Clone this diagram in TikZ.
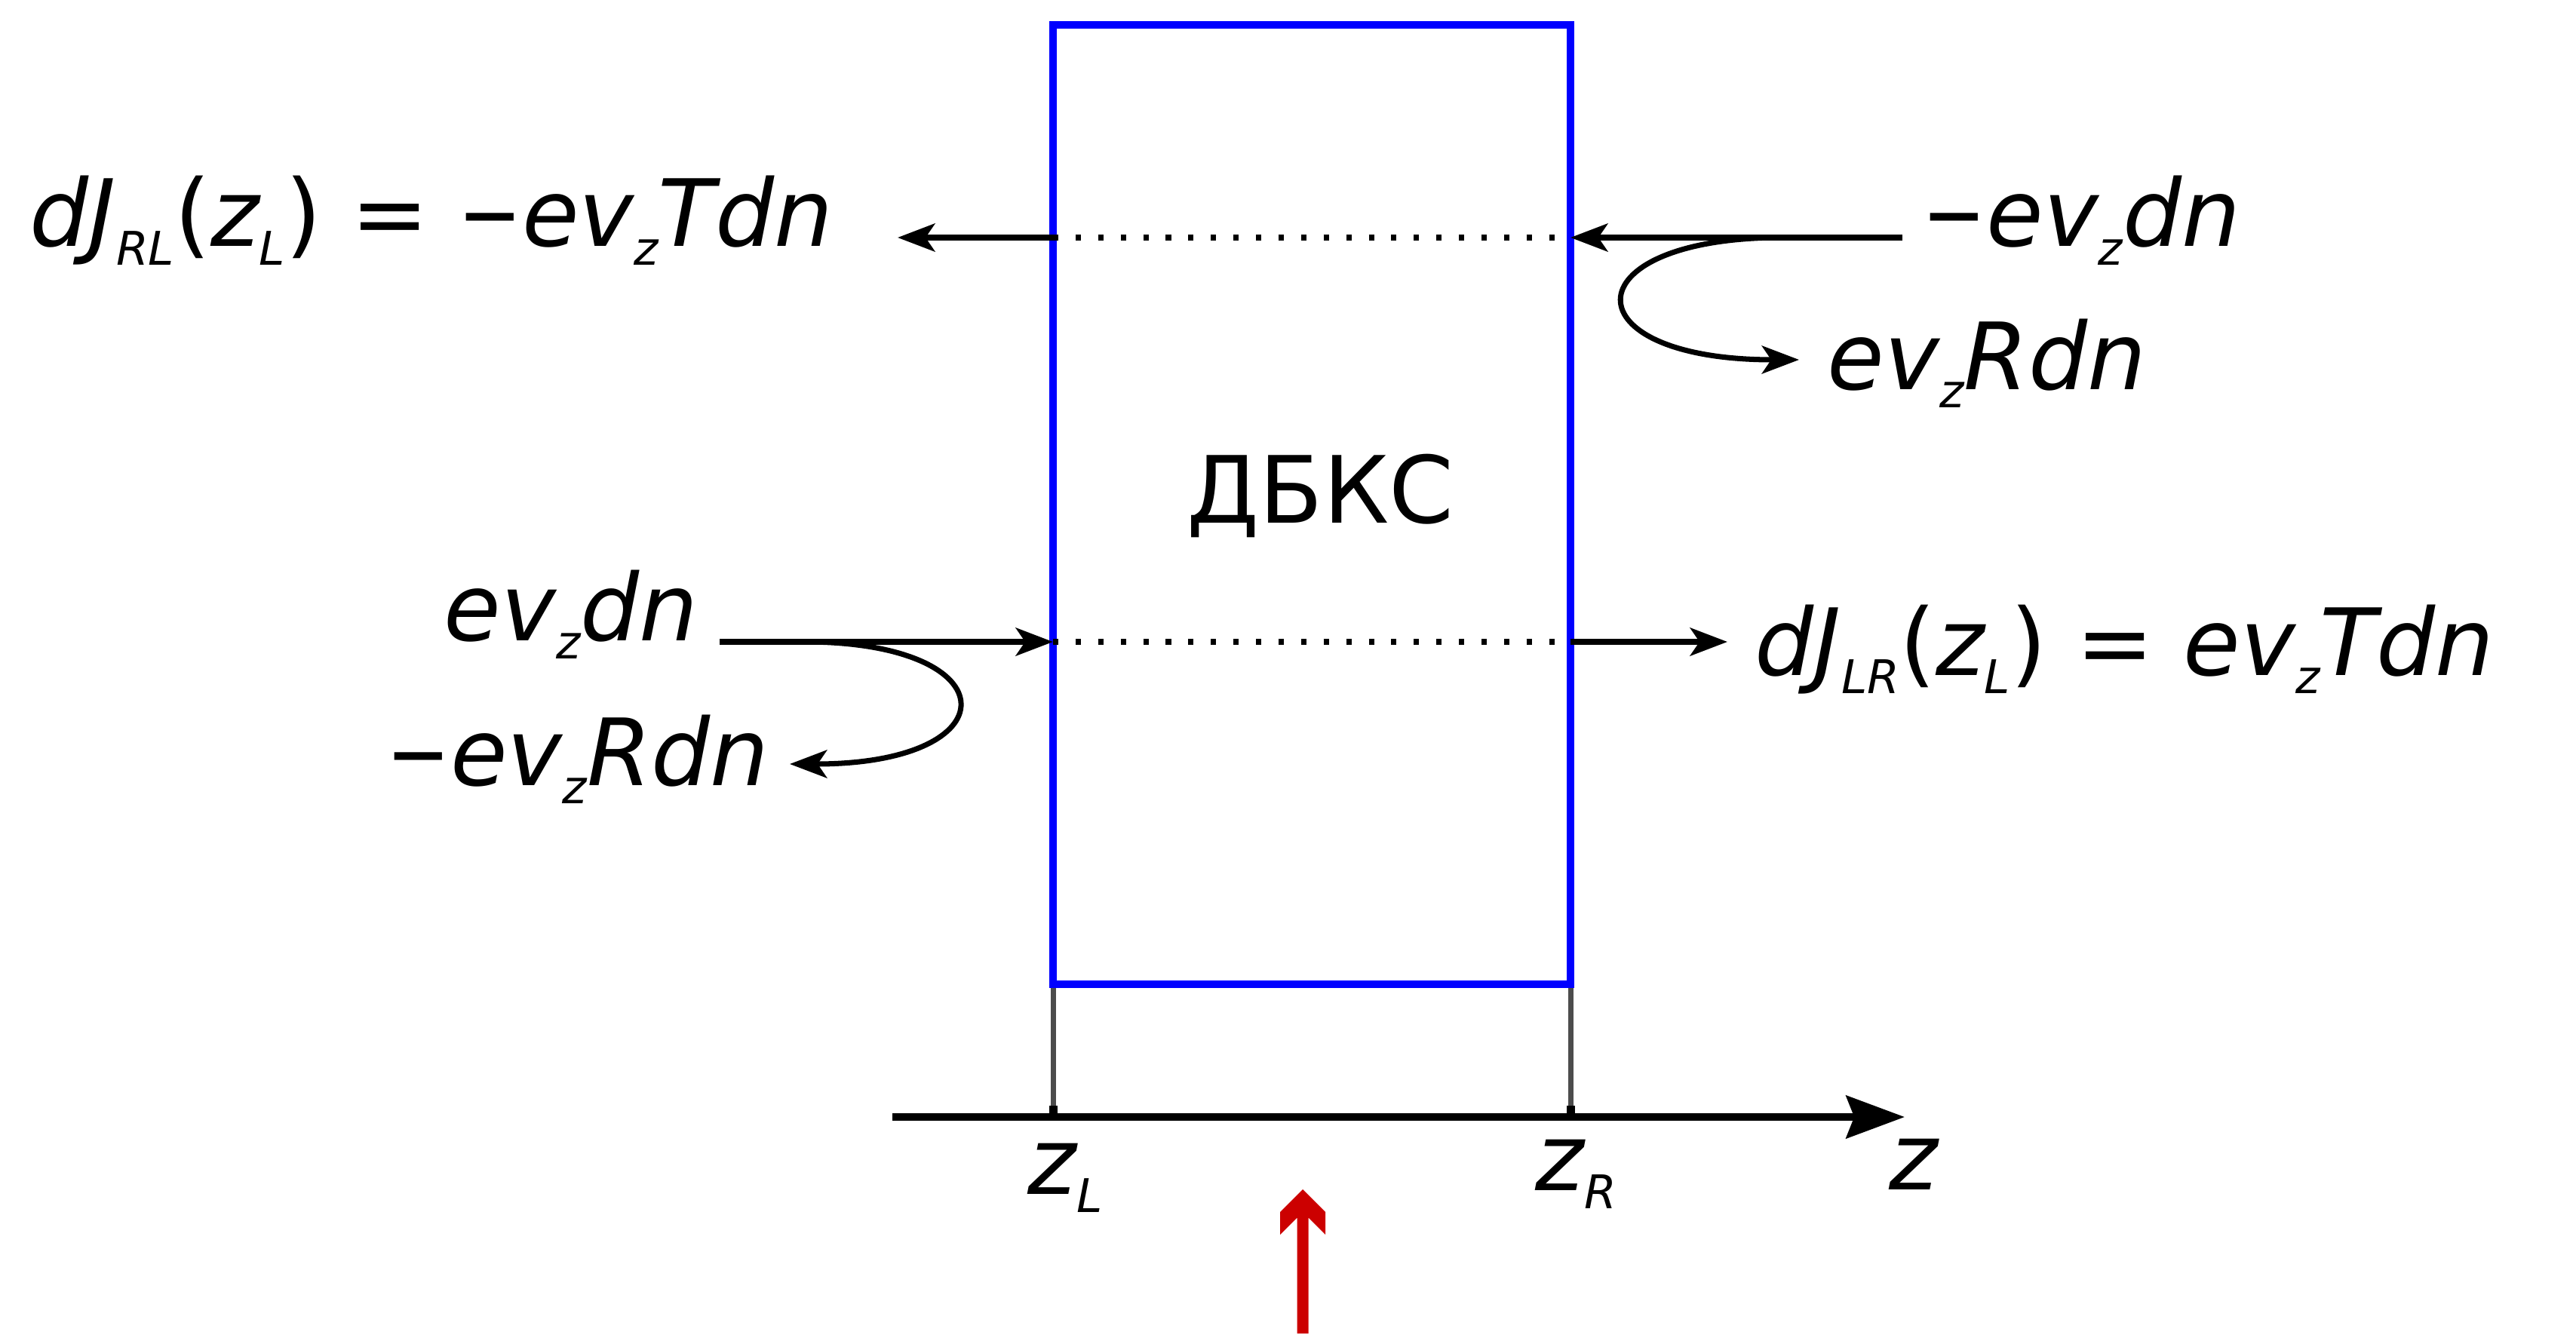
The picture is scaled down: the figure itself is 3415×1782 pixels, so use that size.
\documentclass[tikz,border=0pt]{standalone}
\usepackage{graphicx}
\usepackage{fontspec}
\setmainfont{DejaVu Sans}
\usetikzlibrary{arrows.meta}
\newcommand\subsc[1]{\raisebox{-0.2em}{\fontsize{17.5}{20}\selectfont #1}}
\newcommand\up[1]{{\upshape #1}}
\newcommand\mns{\scalebox{0.82}[1]{\upshape −}}
\tikzset{
  flux/.style={-{Stealth[length=14pt,width=10.5pt,inset=3.5pt]},line width=2.3pt},
  bounce/.style={flux,line width=2pt},
  wall/.style={draw=blue,line width=3.1pt},
  guide/.style={draw=black!70,line width=2pt},
  probe/.style={dash pattern=on 2pt off 6.5pt,line width=2pt},
  lbl/.style={anchor=base west,inner sep=0pt,font=\fontsize{35}{42}\selectfont\itshape},
}
\begin{document}
\begin{tikzpicture}[x=0.01cm,y=-0.01cm]
  \useasboundingbox (0,0) rectangle (3415,1782);
  % barrier
  \draw[wall] (1396,33) rectangle (2082,1305);
  \node[lbl,font=\fontsize{35}{42}\selectfont\upshape] (name) at (1573,693) {ДБКС};
  \coordinate (tl) at (1396,315);
  \coordinate (tr) at (2082,315);
  \coordinate (ml) at (1396,851);
  \coordinate (mr) at (2082,851);
  \draw[probe] (tl) -- (tr);
  \draw[probe] (ml) -- (mr);

  % fluxes from the right
  \coordinate (inR) at (2522,315);
  \coordinate (outRL) at (1190,315);
  \draw[flux] (tl) -- (outRL);
  \draw[flux] (inR) -- (tr);
  \draw[bounce] (2355,315) .. controls (2080,318) and (2080,477) .. (2385,477);
  \node[lbl] (jRL) at (39,327) {dJ\subsc{RL}\up{(}z\subsc{L}\up{)} \up{=} \mns ev\subsc{z}Tdn};
  \node[lbl] (fR) at (2548,327) {\mns ev\subsc{z}dn};
  \node[lbl] (rR) at (2422,516) {ev\subsc{z}Rdn};

  % fluxes from the left
  \coordinate (inL) at (954,851);
  \coordinate (outLR) at (2290,851);
  \draw[flux] (inL) -- (ml);
  \draw[flux] (mr) -- (outLR);
  \draw[bounce] (1071,851) .. controls (1340,853) and (1340,1013) .. (1047,1013);
  \node[lbl] (fL) at (588,849) {ev\subsc{z}dn};
  \node[lbl] (rL) at (512,1041) {\mns ev\subsc{z}Rdn};
  \node[lbl] (jLR) at (2326,895) {dJ\subsc{LR}\up{(}z\subsc{L}\up{)} \up{=} ev\subsc{z}Tdn};

  % axis
  \coordinate (zL) at (1396,1481);
  \coordinate (zR) at (2082,1481);
  \draw[guide] (1396,1310) -- (zL);
  \draw[guide] (2082,1310) -- (zR);
  \fill (1390.5,1466) rectangle (1401.5,1481);
  \fill (2076.5,1466) rectangle (2087.5,1481);
  \draw[line width=2.9pt,-{Stealth[length=22pt,width=16pt,inset=3pt]}] (1183,1481) -- (2525,1481);
  \node[lbl] (lzL) at (1362,1583) {z\subsc{L}};
  \node[lbl] (lzR) at (2035,1578) {z\subsc{R}};
  \node[lbl] (lz) at (2504,1577) {z};

  % pointer
  \fill[red!80!black] (1727,1577) -- (1757,1607) -- (1757,1637) -- (1734.5,1614.5)
    -- (1734.5,1768) -- (1719.5,1768) -- (1719.5,1614.5) -- (1697,1637) -- (1697,1607) -- cycle;
\end{tikzpicture}
\end{document}
